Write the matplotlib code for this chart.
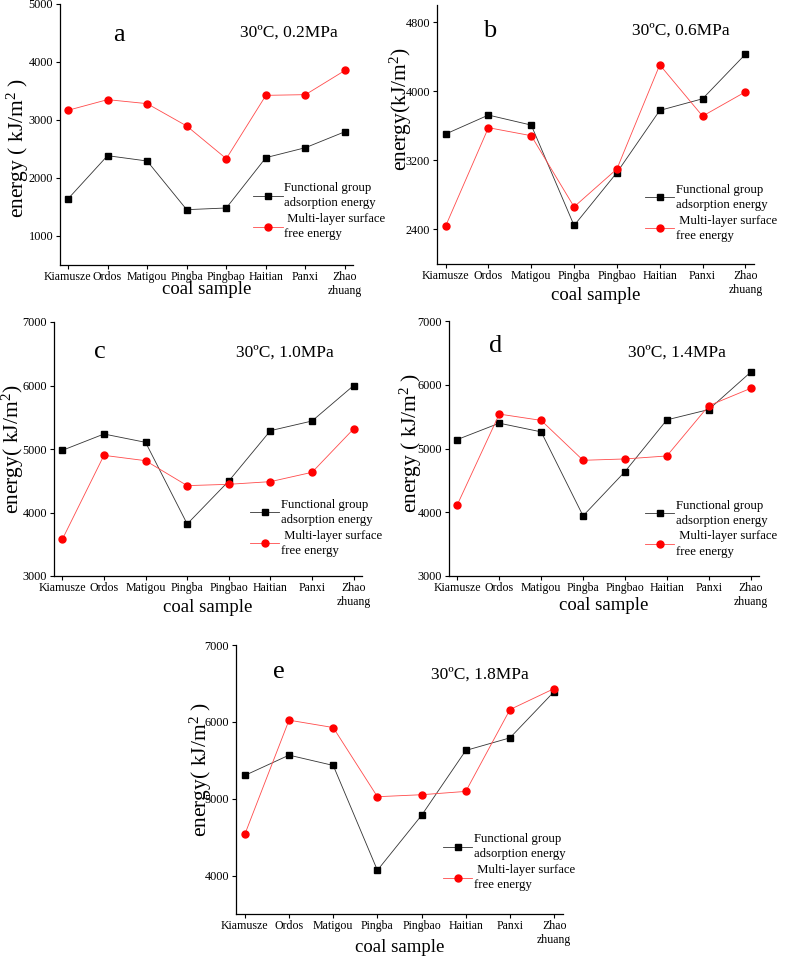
import matplotlib
matplotlib.use("Agg")
import matplotlib.pyplot as plt

plt.rcParams['font.family'] = ['Liberation Serif', 'DejaVu Serif']
plt.rcParams['mathtext.fontset'] = 'custom'
plt.rcParams['mathtext.rm'] = 'Liberation Serif'
plt.rcParams['mathtext.it'] = 'Liberation Serif:italic'

categories = ["Kiamusze", "Ordos", "Matigou", "Pingba", "Pingbao", "Haitian", "Panxi", "Zhao\nzhuang"]

func_a = [1638, 2385, 2293, 1454, 1483, 2351, 2523, 2799]
multi_a = [3167, 3351, 3282, 2897, 2333, 3425, 3437, 3856]
func_b = [3505, 3725, 3609, 2446, 3059, 3779, 3914, 4430]
multi_b = [2438, 3579, 3486, 2662, 3101, 4307, 3713, 3994]
func_c = [4979, 5236, 5105, 3819, 4496, 5289, 5441, 6000]
multi_c = [3577, 4900, 4816, 4423, 4444, 4486, 4633, 5318]
func_d = [5141, 5397, 5261, 3943, 4637, 5449, 5611, 6196]
multi_d = [4120, 5540, 5441, 4815, 4836, 4883, 5671, 5943]
func_e = [5303, 5567, 5433, 4069, 4784, 5628, 5792, 6394]
multi_e = [4537, 6022, 5926, 5026, 5052, 5095, 6160, 6433]

letters = ["a", "b", "c", "d", "e"]
conditions = ["30ºC, 0.2MPa", "30ºC, 0.6MPa", "30ºC, 1.0MPa", "30ºC, 1.4MPa", "30ºC, 1.8MPa"]
ylabels = ["energy ( kJ/m$^2$ )", "energy(kJ/m$^2$)", "energy( kJ/m$^2$)",
           "energy ( kJ/m$^2$ )", "energy( kJ/m$^2$ )"]
yticks_list = [[1000, 2000, 3000, 4000, 5000], [2400, 3200, 4000, 4800],
               [3000, 4000, 5000, 6000, 7000], [3000, 4000, 5000, 6000, 7000],
               [4000, 5000, 6000, 7000]]
ylims = [(500, 5000), (2000, 5000), (3000, 7000), (3000, 7000), (3500, 7000)]
legend_labels = ["Functional group\nadsorption energy", " Multi-layer surface\nfree energy"]

W, H = 787, 959
fig = plt.figure(figsize=(W / 100, H / 100), dpi=100)

# pixel boxes: left, right, top, bottom
boxes = [(60, 353, 4, 265), (437, 754, 5, 264), (54, 362, 322, 576),
         (449, 759, 321, 576), (236, 563, 645, 914)]
ylab_center_px = [17.5, 401, 13, 411, 201]
ylab_y = [0.45, 0.6, 0.5, 0.52, 0.535]
xlab_off = [25, 31, 32, 30, 33]
letter_pos = [(0.2, 0.88), (0.167, 0.9), (0.15, 0.88), (0.15, 0.9), (0.13, 0.9)]
cond_pos = [(0.78, 0.89), (0.77, 0.9), (0.75, 0.88), (0.735, 0.875), (0.746, 0.89)]
leg_pos = [(0.66, 0.318), (0.656, 0.31), (0.636, 0.305), (0.632, 0.30), (0.633, 0.30)]

funcs = [func_a, func_b, func_c, func_d, func_e]
multis = [multi_a, multi_b, multi_c, multi_d, multi_e]

x = list(range(len(categories)))
for i in range(5):
    l, r, t, b = boxes[i]
    ax = fig.add_axes([l / W, 1 - b / H, (r - l) / W, (b - t) / H])
    ax.plot(x, funcs[i], color='#333333', lw=0.6, marker='s', ms=4.5,
            mfc='black', mec='black', label=legend_labels[0])
    ax.plot(x, multis[i], color='#ff4a4a', lw=0.6, marker='o', ms=5,
            mfc='red', mec='red', label=legend_labels[1])
    ax.set_xlim(-0.2, 7.2)
    ax.set_ylim(*ylims[i])
    ax.set_yticks(yticks_list[i])
    ax.set_xticks(x)
    ax.set_xticklabels(categories, fontsize=8.6, linespacing=1.15)
    ax.tick_params(axis='y', labelsize=8.8, direction='out', length=3, width=0.8, pad=2)
    ax.tick_params(axis='x', direction='out', length=3, width=0.8, pad=1.5)
    for s in ['top', 'right']:
        ax.spines[s].set_visible(False)
    for s in ['left', 'bottom']:
        ax.spines[s].set_linewidth(0.9)
    ax.set_ylabel(ylabels[i], fontsize=15.5)
    ax.yaxis.label.set_va('center')
    ax.yaxis.set_label_coords((ylab_center_px[i] - l) / (r - l), ylab_y[i])
    ax.set_xlabel("coal sample", fontsize=13.5)
    ax.xaxis.label.set_va('center')
    ax.xaxis.set_label_coords(0.5, -xlab_off[i] / (b - t))
    ax.text(*letter_pos[i], letters[i], transform=ax.transAxes, fontsize=19,
            ha='center', va='center')
    ax.text(*cond_pos[i], conditions[i], transform=ax.transAxes, fontsize=12.5,
            ha='center', va='center')
    leg = ax.legend(loc='upper left', bbox_to_anchor=leg_pos[i], frameon=False,
                    fontsize=9.2, handlelength=2.3, handletextpad=0.1,
                    labelspacing=0.3, borderpad=0, borderaxespad=0)
    for txt in leg.get_texts():
        txt.set_linespacing(1.35)

fig.savefig("out.png", dpi=100)
